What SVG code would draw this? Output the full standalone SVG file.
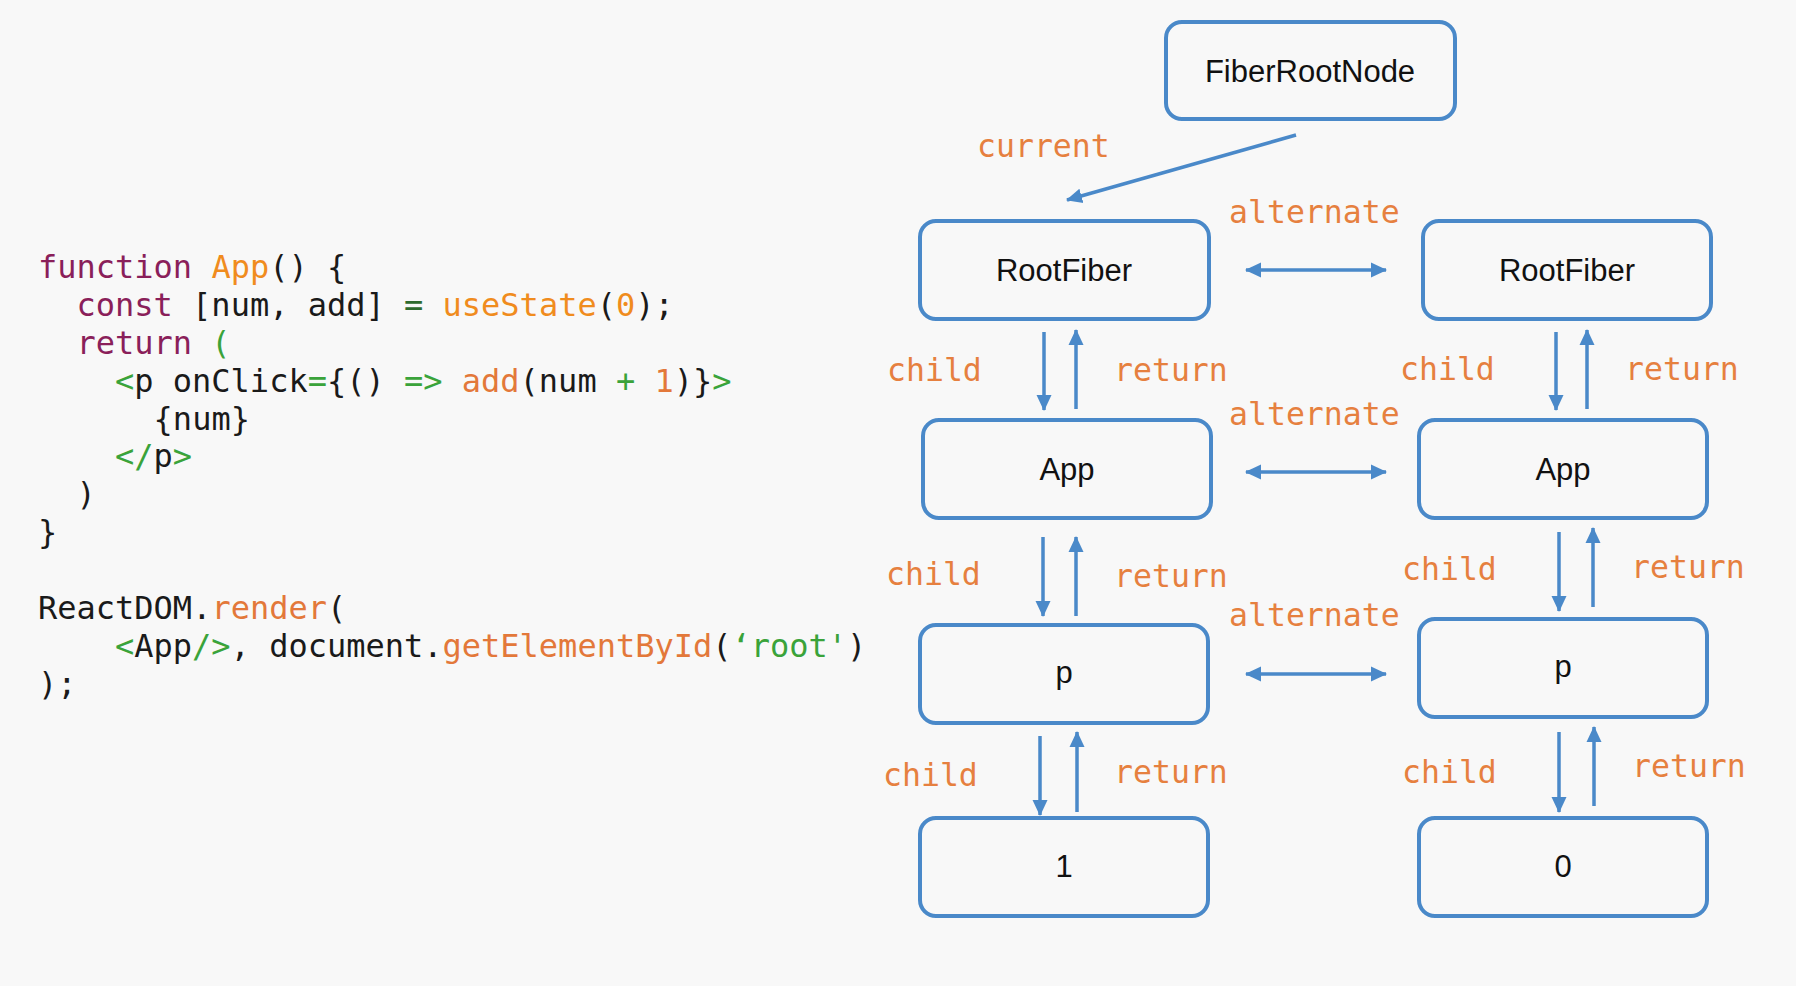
<svg xmlns="http://www.w3.org/2000/svg" width="1796" height="986" viewBox="0 0 1796 986">
<defs>
<marker id="ah" markerUnits="userSpaceOnUse" markerWidth="16" markerHeight="16" refX="15" refY="8" orient="auto-start-reverse" viewBox="0 0 16 16">
<path d="M0,0.5 L16,8 L0,15.5 z" fill="#4A89C9"/>
</marker>
<style>
.box{fill:none;stroke:#4A89C9;stroke-width:4}
.nt{font-family:"Liberation Sans",Arial,sans-serif;font-size:31px;fill:#111;text-anchor:middle}
.code{font-family:"DejaVu Sans Mono",monospace;font-size:32px;fill:#1a1a1a}
.kw{fill:#8A1F5A}
.or{fill:#F08C1E}
.or2{fill:#E3783A}
.gr{fill:#3AA33A}
.dg{fill:#2E6B2E}
.lbl{font-family:"DejaVu Sans Mono",monospace;font-size:31.5px;fill:#E6803F}
.ln{stroke:#4A89C9;stroke-width:3.5;fill:none;marker-end:url(#ah)}
.dbl{stroke:#4A89C9;stroke-width:3.5;fill:none;marker-end:url(#ah);marker-start:url(#ah)}
</style>
</defs>
<rect width="1796" height="986" fill="#F8F8F8"/>

<g id="code" class="code">
<text x="38" y="278"><tspan class="kw">function</tspan> <tspan class="or">App</tspan>() {</text>
<text x="76.5" y="316"><tspan class="kw">const</tspan> [num, add] <tspan class="dg">=</tspan> <tspan class="or">useState</tspan>(<tspan class="or">0</tspan>);</text>
<text x="76.5" y="354"><tspan class="kw">return</tspan> <tspan class="gr">(</tspan></text>
<text x="115" y="392"><tspan class="gr">&lt;</tspan>p onClick<tspan class="gr">=</tspan>{() <tspan class="gr">=&gt;</tspan> <tspan class="or2">add</tspan>(num <tspan class="gr">+</tspan> <tspan class="or2">1</tspan>)}<tspan class="gr">&gt;</tspan></text>
<text x="153.6" y="430">{num}</text>
<text x="115" y="467"><tspan class="gr">&lt;/</tspan>p<tspan class="gr">&gt;</tspan></text>
<text x="76.5" y="505">)</text>
<text x="38" y="543">}</text>
<text x="38" y="619">ReactDOM.<tspan class="or2">render</tspan>(</text>
<text x="115" y="657"><tspan class="gr">&lt;</tspan>App<tspan class="gr">/&gt;</tspan>, document.<tspan class="or2">getElementById</tspan>(<tspan class="gr">‘root'</tspan>)</text>
<text x="38" y="695">);</text>
</g>

<g id="node-fiberrootnode"><rect class="box" x="1166" y="22" width="289" height="97" rx="16"/><text class="nt" x="1310" y="82">FiberRootNode</text></g>
<g id="node-rootfiber-l"><rect class="box" x="920" y="221" width="289" height="98" rx="16"/><text class="nt" x="1064" y="281">RootFiber</text></g>
<g id="node-rootfiber-r"><rect class="box" x="1423" y="221" width="288" height="98" rx="16"/><text class="nt" x="1567" y="281">RootFiber</text></g>
<g id="node-app-l"><rect class="box" x="923" y="420" width="288" height="98" rx="16"/><text class="nt" x="1067" y="480">App</text></g>
<g id="node-app-r"><rect class="box" x="1419" y="420" width="288" height="98" rx="16"/><text class="nt" x="1563" y="480">App</text></g>
<g id="node-p-l"><rect class="box" x="920" y="625" width="288" height="98" rx="16"/><text class="nt" x="1064" y="683">p</text></g>
<g id="node-p-r"><rect class="box" x="1419" y="619" width="288" height="98" rx="16"/><text class="nt" x="1563" y="677">p</text></g>
<g id="node-1"><rect class="box" x="920" y="818" width="288" height="98" rx="16"/><text class="nt" x="1064" y="877">1</text></g>
<g id="node-0"><rect class="box" x="1419" y="818" width="288" height="98" rx="16"/><text class="nt" x="1563" y="877">0</text></g>

<g id="connectors">
<line class="ln" x1="1296" y1="135" x2="1067" y2="200"/>
<line class="dbl" x1="1246" y1="270" x2="1386" y2="270"/>
<line class="dbl" x1="1246" y1="472" x2="1386" y2="472"/>
<line class="dbl" x1="1246" y1="674" x2="1386" y2="674"/>

<line class="ln" x1="1044" y1="332" x2="1044" y2="410"/>
<line class="ln" x1="1076" y1="409" x2="1076" y2="330"/>
<line class="ln" x1="1556" y1="332" x2="1556" y2="410"/>
<line class="ln" x1="1587" y1="409" x2="1587" y2="330"/>

<line class="ln" x1="1043" y1="537" x2="1043" y2="616"/>
<line class="ln" x1="1076" y1="616" x2="1076" y2="537"/>
<line class="ln" x1="1559" y1="532" x2="1559" y2="611"/>
<line class="ln" x1="1593" y1="607" x2="1593" y2="528"/>

<line class="ln" x1="1040" y1="736" x2="1040" y2="815"/>
<line class="ln" x1="1077" y1="812" x2="1077" y2="732"/>
<line class="ln" x1="1559" y1="732" x2="1559" y2="812"/>
<line class="ln" x1="1594" y1="806" x2="1594" y2="727"/>
</g>

<g id="labels" class="lbl">
<text x="977" y="157">current</text>
<text x="1229" y="223">alternate</text>
<text x="1229" y="425">alternate</text>
<text x="1229" y="626">alternate</text>
<text x="887" y="381">child</text>
<text x="1114" y="381">return</text>
<text x="1400" y="380">child</text>
<text x="1625" y="380">return</text>
<text x="886" y="585">child</text>
<text x="1114" y="587">return</text>
<text x="1402" y="580">child</text>
<text x="1631" y="578">return</text>
<text x="883" y="786">child</text>
<text x="1114" y="783">return</text>
<text x="1402" y="783">child</text>
<text x="1632" y="777">return</text>
</g>
</svg>
